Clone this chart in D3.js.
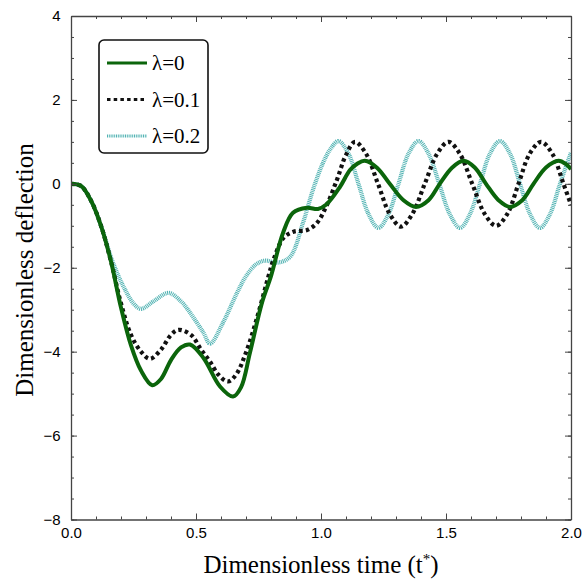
<!DOCTYPE html>
<html>
<head>
<meta charset="utf-8">
<script src="https://cdn.jsdelivr.net/npm/d3@7"></script>
<style>
  body { margin: 0; background: #fff; }
  .tick text { font-family: "Liberation Sans", Arial, sans-serif; font-size: 15px; fill: #000; }
</style>
</head>
<body>
<div class="graphContainer"></div>
<script>
// values
var tGreen = [0, 0.04, 0.08, 0.12, 0.16, 0.2, 0.24, 0.28, 0.325, 0.36, 0.4, 0.44, 0.476, 0.53, 0.596, 0.648, 0.68, 0.716, 0.764, 0.8, 0.848, 0.888, 0.944, 0.988, 1.02, 1.076, 1.116, 1.145, 1.175, 1.225, 1.275, 1.33, 1.38, 1.43, 1.475, 1.525, 1.57, 1.615, 1.66, 1.71, 1.755, 1.805, 1.85, 1.9, 1.95, 1.98, 2.0];
var yGreen = [0, -0.05, -0.4, -1.0, -1.85, -2.95, -3.85, -4.45, -4.8, -4.65, -4.2, -3.9, -3.83, -4.15, -4.83, -5.07, -4.85, -4.02, -2.83, -2.2, -1.17, -0.69, -0.57, -0.6, -0.5, -0.07, 0.33, 0.48, 0.55, 0.38, 0.0, -0.39, -0.55, -0.39, 0.0, 0.39, 0.55, 0.39, 0.0, -0.39, -0.55, -0.39, 0.0, 0.39, 0.55, 0.47, 0.35];

var tBlack = [0, 0.04, 0.08, 0.12, 0.16, 0.2, 0.24, 0.28, 0.316, 0.36, 0.4, 0.43, 0.48, 0.52, 0.556, 0.59, 0.628, 0.66, 0.7, 0.75, 0.79, 0.81, 0.85, 0.89, 0.944, 0.984, 1.02, 1.064, 1.1, 1.136, 1.18, 1.228, 1.275, 1.32, 1.365, 1.415, 1.465, 1.51, 1.555, 1.605, 1.655, 1.7, 1.745, 1.79, 1.835, 1.88, 1.925, 1.97, 2.0];
var yBlack = [0, -0.05, -0.4, -1.0, -1.85, -2.85, -3.6, -4.0, -4.17, -3.95, -3.6, -3.48, -3.6, -3.95, -4.24, -4.55, -4.71, -4.55, -4.02, -3.07, -2.2, -1.81, -1.29, -1.14, -1.1, -0.93, -0.55, 0.1, 0.69, 1.0, 0.72, 0.0, -0.72, -1.02, -0.72, 0.0, 0.72, 1.0, 0.72, 0.0, -0.72, -1.0, -0.72, 0.0, 0.72, 1.0, 0.72, 0.0, -0.5];

var tCyan = [0, 0.04, 0.08, 0.12, 0.16, 0.188, 0.216, 0.25, 0.28, 0.33, 0.39, 0.44, 0.476, 0.53, 0.556, 0.608, 0.664, 0.7, 0.74, 0.776, 0.824, 0.876, 0.928, 0.968, 1.008, 1.04, 1.07, 1.11, 1.15, 1.19, 1.23, 1.27, 1.31, 1.35, 1.39, 1.43, 1.473, 1.515, 1.556, 1.596, 1.636, 1.676, 1.716, 1.756, 1.796, 1.836, 1.876, 1.916, 1.956, 2.0];
var yCyan = [0, -0.05, -0.4, -1.0, -1.75, -2.17, -2.52, -2.85, -2.98, -2.8, -2.6, -2.8, -3.07, -3.55, -3.81, -3.31, -2.6, -2.2, -1.92, -1.83, -1.88, -1.74, -0.93, -0.14, 0.5, 0.85, 1.02, 0.72, 0.0, -0.72, -1.05, -0.72, 0.0, 0.72, 1.02, 0.72, 0.0, -0.72, -1.05, -0.72, 0.0, 0.72, 1.02, 0.72, 0.0, -0.72, -1.05, -0.72, 0.0, 0.75];

var legendLabels = ["\u03bb=0", "\u03bb=0.1", "\u03bb=0.2"];
var xTicks = [0, 0.5, 1.0, 1.5, 2.0];
var yTicks = [-8, -6, -4, -2, 0, 2, 4];

function drawChart() {
  var w = 582,
      h = 579,
      left = 71, right = 571, top = 16, bottom = 519.5;

  var x = d3.scaleLinear().domain([0, 2]).range([left, right]);
  var y = d3.scaleLinear().domain([-8, 4]).range([bottom, top]);

  var svg = d3.select(".graphContainer")
    .append("svg")
    .attr("width", w)
    .attr("height", h);

  svg.append("clipPath").attr("id", "plotClip")
    .append("rect")
      .attr("x", left).attr("y", top)
      .attr("width", right - left).attr("height", bottom - top);

  var series = [
    { t: tGreen, v: yGreen, color: "#0b650b", width: 4, dash: null },
    { t: tBlack, v: yBlack, color: "#111", width: 4.2, dash: "3.5,3.2" },
    { t: tCyan, v: yCyan, color: "#52b3b3", width: 4.2, dash: "1,0.8" }
  ];

  var line = d3.line()
    .x(function (d) { return x(d[0]); })
    .y(function (d) { return y(d[1]); })
    .curve(d3.curveCatmullRom.alpha(0.5));

  // cyan underneath, green on top
  var order = [2, 1, 0];
  order.forEach(function (i) {
    var s = series[i];
    svg.append("path")
      .datum(d3.zip(s.t, s.v))
      .attr("clip-path", "url(#plotClip)")
      .attr("fill", "none")
      .attr("stroke", s.color)
      .attr("stroke-width", s.width)
      .attr("stroke-dasharray", s.dash)
      .attr("d", line);
  });

  // frame axes with inward ticks
  var fmtX = d3.format(".1f");
  var fmtY = function (d) { return d < 0 ? "\u2212" + Math.abs(d) : String(d); };

  var minorX = d3.range(0, 2.0001, 0.1);
  var minorY = d3.range(-8, 4.0001, 0.5);

  function frameAxis(axisFn, scale, ticks, fmt, tx, ty, showLabels) {
    var g = svg.append("g").attr("transform", "translate(" + tx + "," + ty + ")");
    g.call(axisFn(scale).tickValues(ticks)
      .tickSizeInner(-6).tickSizeOuter(0).tickPadding(showLabels ? 10 : 0)
      .tickFormat(showLabels ? fmt : ""));
    g.select(".domain").attr("stroke", "#444").attr("stroke-width", 1.3);
    g.selectAll(".tick line").attr("stroke", "#444");
    return g;
  }

  function minorAxis(axisFn, scale, vals, tx, ty) {
    var g = svg.append("g").attr("transform", "translate(" + tx + "," + ty + ")");
    g.call(axisFn(scale).tickValues(vals).tickSizeInner(-3).tickSizeOuter(0).tickFormat(""));
    g.select(".domain").remove();
    g.selectAll(".tick line").attr("stroke", "#444");
  }

  minorAxis(d3.axisBottom, x, minorX, 0, bottom);
  minorAxis(d3.axisTop, x, minorX, 0, top);
  minorAxis(d3.axisLeft, y, minorY, left, 0);
  minorAxis(d3.axisRight, y, minorY, right, 0);

  var bx = frameAxis(d3.axisBottom, x, xTicks, fmtX, 0, bottom, true);
  bx.selectAll(".tick text").attr("dy", "0.55em");
  frameAxis(d3.axisTop, x, xTicks, fmtX, 0, top, false);
  var ly = frameAxis(d3.axisLeft, y, yTicks, fmtY, left, 0, true);
  ly.selectAll(".tick text").attr("dx", "-0.5");
  frameAxis(d3.axisRight, y, yTicks, fmtY, right, 0, false);

  // axis titles
  var serif = "'Liberation Serif', 'Times New Roman', serif";
  var xTitle = svg.append("text")
    .attr("x", 321).attr("y", 573)
    .attr("text-anchor", "middle")
    .style("font-family", serif)
    .style("font-size", "25px");
  xTitle.append("tspan").text("Dimensionless time (t");
  xTitle.append("tspan").attr("dy", -9).style("font-size", "15px").text("*");
  xTitle.append("tspan").attr("dy", 9).text(")");

  svg.append("text")
    .attr("transform", "translate(33," + 270 + ") rotate(-90)")
    .attr("text-anchor", "middle")
    .style("font-family", serif)
    .style("font-size", "25px")
    .text("Dimensionless deflection");

  // legend
  var legend = svg.append("g");
  legend.append("rect")
    .attr("x", 99).attr("y", 40)
    .attr("width", 109).attr("height", 113)
    .attr("rx", 5)
    .attr("fill", "#fff")
    .attr("stroke", "#111")
    .attr("stroke-width", 1.6);

  var rows = legend.selectAll(".row")
    .data(series)
    .enter()
      .append("g")
        .attr("transform", function (d, i) { return "translate(0," + (63 + i * 36.5) + ")"; });

  rows.append("line")
    .attr("x1", 107).attr("x2", 147)
    .attr("stroke", function (d) { return d.color; })
    .attr("stroke-width", 3)
    .attr("stroke-dasharray", function (d) { return d.dash; });

  rows.append("text")
    .attr("x", 152).attr("y", 7)
    .style("font-family", serif)
    .style("font-size", "21px")
    .text(function (d, i) { return legendLabels[i]; });
}

drawChart();
</script>
</body>
</html>
